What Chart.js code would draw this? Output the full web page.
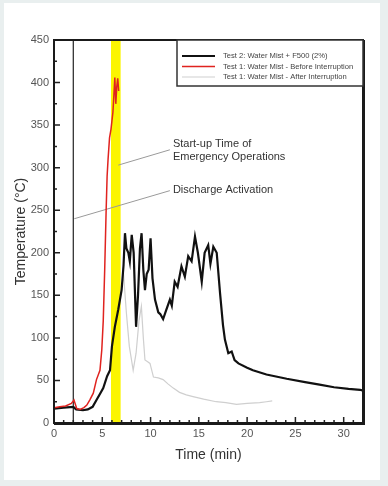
<!DOCTYPE html>
<html>
<head>
<meta charset="utf-8">
<script src="https://cdn.jsdelivr.net/npm/chart.js@4.4.1/dist/chart.umd.min.js"></script>
<style>
  html,body{margin:0;padding:0;background:#e9efef;}
  #wrap{position:relative;width:388px;height:486px;}
  #paper{position:absolute;left:4px;top:3px;width:376px;height:477px;background:#fff;}
  #c{position:absolute;left:0;top:0;}
</style>
</head>
<body>
<div id="wrap">
  <div id="paper"></div>
  <canvas id="c" width="388" height="486"></canvas>
</div>
<script>
// ── DATA ──
const LABELS = ['Test 2: Water Mist + F500 (2%)', 'Test 1: Water Mist - Before Interruption', 'Test 1: Water Mist - After Interruption'];

const t2Time = [0,1,2,2.3,3,3.5,4,4.4,4.8,5.1,5.5,5.8,6.0,6.3,6.65,7.0,7.2,7.35,7.5,7.7,7.85,8.05,8.25,8.5,8.7,8.9,9.07,9.25,9.42,9.6,9.8,10.0,10.2,10.46,10.8,11.0,11.3,11.6,12.0,12.2,12.5,12.8,13.2,13.55,13.9,14.25,14.6,14.9,15.3,15.6,15.97,16.2,16.5,16.85,17.2,17.5,17.7,18.05,18.4,18.7,19.1,20,20.6,22,24.1,26,27.5,29,30.5,31.7,32];
const t2Temp = [17,18,19,16,15,16,19,27,35,41,55,62,90,113,133,156,185,223,205,200,190,221,200,113,150,205,223,180,156,175,180,217,170,145,130,128,122,132,145,138,166,160,184,172,196,190,219,200,166,200,209,187,207,200,152,115,98,82,84,74,70,65,62,57,52,48,45,42,40,39,38];

const t1bTime = [0,0.6,1.2,1.8,2.07,2.35,2.7,3.1,3.4,3.7,4.07,4.4,4.76,4.95,5.1,5.25,5.4,5.5,5.6,5.75,5.9,6.0,6.1,6.2,6.3,6.4,6.5,6.6,6.7];
const t1bTemp = [18,19,20,23,27,17,16,18,21,27,35,51,62,86,120,180,250,290,310,335,345,355,365,385,406,375,395,405,390];

const t1aTime = [6.9,7.2,7.5,7.8,8.2,8.5,8.8,9.05,9.25,9.42,9.7,9.94,10.3,10.8,11.3,11.8,12.35,13,13.7,14.4,15.5,16.8,17.8,18.9,20,21.3,22,22.6];
const t1aTemp = [150,175,129,90,62,82,120,137,100,74,72,70,54,53,51,46,41,36,33,31,28,25,24,22,23,24,25,26];

const DISCHARGE = 2;          // min
const STARTUP   = [5.9, 6.9]; // min, yellow band
const NOTE_START = ['Start-up Time of', 'Emergency Operations'];
const NOTE_DISCH = 'Discharge Activation';

const pts = (xs, ys) => xs.map((x, i) => ({x, y: ys[i]}));
const FONT = "'Liberation Sans', Arial, sans-serif";

// ── DECORATIONS ──
const plotDeco = {
  id: 'plotDeco',
  beforeDatasetsDraw(chart) {
    const {ctx, chartArea: a, scales: {x, y}} = chart;
    ctx.save();
    // start-up band
    const b0 = x.getPixelForValue(STARTUP[0]), b1 = x.getPixelForValue(STARTUP[1]);
    ctx.fillStyle = '#fbf500';
    ctx.fillRect(b0, a.top, b1 - b0, a.bottom - a.top);
    // discharge line
    const dx = x.getPixelForValue(DISCHARGE);
    ctx.strokeStyle = '#333';
    ctx.lineWidth = 1.3;
    ctx.beginPath(); ctx.moveTo(dx, a.top); ctx.lineTo(dx, a.bottom); ctx.stroke();
    // leader lines
    ctx.strokeStyle = '#9a9a9a';
    ctx.lineWidth = 1;
    ctx.beginPath();
    ctx.moveTo(x.getPixelForValue(6.66), y.getPixelForValue(303));
    ctx.lineTo(x.getPixelForValue(12.0), y.getPixelForValue(321));
    ctx.moveTo(x.getPixelForValue(2.1), y.getPixelForValue(240));
    ctx.lineTo(x.getPixelForValue(12.0), y.getPixelForValue(273));
    ctx.stroke();
    // notes
    ctx.fillStyle = '#333';
    ctx.font = '11px ' + FONT;
    ctx.textBaseline = 'middle';
    const tx = x.getPixelForValue(12.0) + 3;
    ctx.fillText(NOTE_START[0], tx, y.getPixelForValue(328));
    ctx.fillText(NOTE_START[1], tx, y.getPixelForValue(313));
    ctx.fillText(NOTE_DISCH, tx, y.getPixelForValue(274));
    ctx.restore();
  },
  afterDatasetsDraw(chart) {
    const {ctx, chartArea: a, scales: {x, y}} = chart;
    ctx.save();
    // ticks (inward)
    ctx.strokeStyle = '#222';
    ctx.lineWidth = 1.5;
    ctx.beginPath();
    for (let v = 0; v <= 32; v += 1) {
      const px = x.getPixelForValue(v), len = v % 5 === 0 ? 6 : 3;
      ctx.moveTo(px, a.bottom); ctx.lineTo(px, a.bottom - len);
    }
    for (let v = 0; v <= 450; v += 25) {
      const py = y.getPixelForValue(v), len = v % 50 === 0 ? 6 : 3;
      ctx.moveTo(a.left, py); ctx.lineTo(a.left + len, py);
    }
    ctx.stroke();
    // frame
    ctx.strokeStyle = '#1a1a1a';
    ctx.lineWidth = 2;
    ctx.strokeRect(a.left, a.top, a.right - a.left, a.bottom - a.top);
    ctx.lineWidth = 3;
    ctx.beginPath();
    ctx.moveTo(a.right + 0.5, a.top); ctx.lineTo(a.right + 0.5, a.bottom + 0.5); ctx.lineTo(a.left, a.bottom + 0.5);
    ctx.stroke();
    // legend box
    const lx = 177, ly = a.top, lw = a.right - lx, lh = 46;
    ctx.fillStyle = '#fff';
    ctx.fillRect(lx, ly, lw, lh);
    ctx.strokeStyle = '#333';
    ctx.lineWidth = 1.5;
    ctx.strokeRect(lx, ly, lw, lh);
    ctx.font = '7.6px ' + FONT;
    ctx.textBaseline = 'middle';
    chart.data.datasets.forEach((ds, i) => {
      const yy = ly + 16 + i * 10.5;
      ctx.strokeStyle = ds.borderColor;
      ctx.lineWidth = ds.borderWidth;
      ctx.beginPath(); ctx.moveTo(lx + 5, yy); ctx.lineTo(lx + 38, yy); ctx.stroke();
      ctx.fillStyle = '#444';
      ctx.fillText(ds.label, lx + 46, yy);
    });
    ctx.restore();
  }
};

new Chart(document.getElementById('c').getContext('2d'), {
  type: 'line',
  data: {
    datasets: [
      {label: LABELS[0], data: pts(t2Time, t2Temp), borderColor: '#111', borderWidth: 2.2, order: 2},
      {label: LABELS[1], data: pts(t1bTime, t1bTemp), borderColor: '#e0231f', borderWidth: 1.5, order: 1},
      {label: LABELS[2], data: pts(t1aTime, t1aTemp), borderColor: '#cfcfcf', borderWidth: 1.2, order: 3}
    ]
  },
  options: {
    responsive: false,
    animation: false,
    elements: {point: {radius: 0}, line: {tension: 0, fill: false}},
    layout: {padding: {left: 13, right: 25, top: 40, bottom: 22}},
    plugins: {legend: {display: false}, tooltip: {enabled: false}},
    scales: {
      x: {
        type: 'linear', min: 0, max: 32,
        grid: {display: false, drawTicks: false}, border: {display: false},
        ticks: {stepSize: 5, includeBounds: false, color: '#555', font: {family: FONT, size: 11}, padding: 4, maxRotation: 0},
        title: {display: true, text: 'Time (min)', color: '#333', font: {family: FONT, size: 14}, padding: {top: 4, bottom: 0}},
        afterFit: s => { s.height = 41; }
      },
      y: {
        min: 0, max: 450,
        grid: {display: false, drawTicks: false}, border: {display: false},
        ticks: {stepSize: 50, color: '#555', font: {family: FONT, size: 11}, padding: 5},
        title: {display: true, text: 'Temperature (°C)', color: '#333', font: {family: FONT, size: 14}, padding: {top: 0, bottom: 0}},
        afterFit: s => { s.width = 41; }
      }
    }
  },
  plugins: [plotDeco]
});
</script>
</body>
</html>
